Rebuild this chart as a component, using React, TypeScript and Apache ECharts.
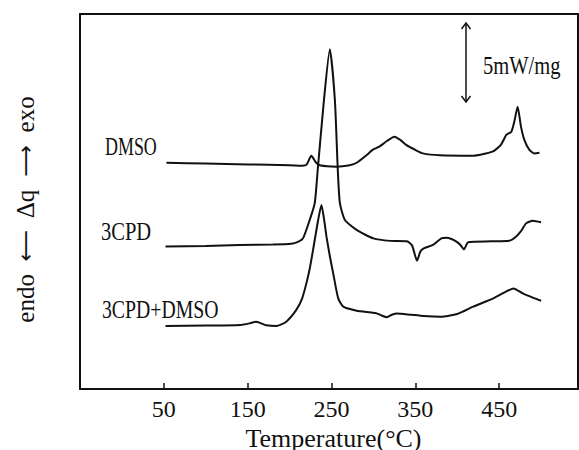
import React, { useEffect, useRef } from "react";
import * as echarts from "echarts";

// Temperature (°C) and heat flow (mW/mg, curves offset vertically)
const dmsoT = [53, 100, 150, 200, 215, 220, 226, 231, 236, 256, 270, 280, 292, 299, 307, 316, 325, 332, 339, 350, 359, 379, 418, 442, 452, 458.5, 464.5, 468, 472, 476, 480, 486, 492, 498];
const dmsoV = [14.48, 14.43, 14.37, 14.32, 14.29, 14.34, 14.93, 14.53, 14.32, 14.23, 14.3, 14.48, 14.98, 15.3, 15.51, 15.87, 16.15, 15.94, 15.62, 15.3, 15.08, 14.96, 14.93, 15.19, 15.62, 16.26, 16.47, 17.1, 18.07, 16.79, 15.94, 15.3, 15.08, 15.12];

const cpdT = [52, 100, 140, 180, 202, 210, 216, 224, 230, 233.5, 241, 248, 254, 257.5, 260, 266, 280, 300, 320, 340, 346, 352, 356, 360, 371, 381, 387, 393, 399, 404, 408, 413, 440, 462, 470, 476, 482, 490, 500];
const cpdV = [9.12, 9.15, 9.22, 9.25, 9.3, 9.42, 9.64, 10.82, 11.9, 14.0, 18.5, 21.74, 18.5, 14.0, 11.9, 10.82, 10.18, 9.64, 9.48, 9.45, 9.2, 8.21, 8.8, 9.0, 9.22, 9.64, 9.68, 9.6, 9.43, 9.2, 8.94, 9.39, 9.45, 9.49, 9.75, 10.1, 10.6, 10.77, 10.67];

const mixT = [52, 100, 141, 152, 160, 166, 172, 184, 196, 208, 215, 220, 224, 228, 234, 238, 241, 244, 248, 252, 258, 264, 280, 297, 304, 310, 316, 322, 328, 345, 360, 380, 400, 419, 443, 458, 467, 478, 490, 500];
const mixV = [4.03, 4.06, 4.1, 4.2, 4.31, 4.2, 4.08, 4.03, 4.31, 5.06, 5.8, 6.76, 7.7, 8.9, 10.8, 11.78, 10.9, 9.75, 8.5, 7.4, 5.8, 5.27, 5.01, 4.9, 4.84, 4.7, 4.6, 4.75, 4.84, 4.75, 4.67, 4.63, 4.8, 5.27, 5.8, 6.23, 6.44, 6.12, 5.85, 5.65];

const tickLabels = [50, 150, 250, 350, 450];
const seriesNames = ["DMSO", "3CPD", "3CPD+DMSO"];
const xTitle = "Temperature(°C)";
const yTitle = "endo  {a|⟵}  Δq  {a|⟶}  exo";
const scaleText = "5mW/mg";

const FONT = "'Liberation Serif', 'DejaVu Serif', serif";
const INK = "#111";

function pairs(t: number[], v: number[]) {
  return t.map((x, i) => [x, v[i]]);
}

export default function App() {
  const ref = useRef<HTMLDivElement>(null);
  useEffect(() => {
    if (!ref.current) return;
    const chart = echarts.init(ref.current, null, { renderer: "svg" });
    const lineSeries = (name: string, data: number[][]) => ({
      name,
      type: "line",
      data,
      showSymbol: false,
      smooth: 0.2,
      lineStyle: { color: INK, width: 2 },
      itemStyle: { color: INK },
    });
    const label = (text: string, x: number, y: number, sx: number) => ({
      type: "text",
      x,
      y,
      scaleX: sx,
      style: { text, fill: INK, fontFamily: FONT, fontSize: 26, align: "left", verticalAlign: "middle" },
    });
    const frameAxis = {
      axisTick: { show: false },
      axisLabel: { show: false },
      splitLine: { show: false },
    };
    chart.setOption({
      animation: false,
      backgroundColor: "#fff",
      grid: { left: 80, right: 1, top: 14, bottom: 61, outerBoundsMode: "none", containLabel: false },
      xAxis: [
        {
          type: "value",
          position: "bottom",
          min: -50,
          max: 544,
          interval: 100,
          axisLine: { show: true, onZero: false, lineStyle: { color: INK, width: 2 } },
          axisTick: { show: true, inside: true, length: 6, lineStyle: { color: INK, width: 1.5 } },
          axisLabel: {
            formatter: (v: number) => (tickLabels.includes(v) ? String(v) : ""),
            fontFamily: FONT,
            fontSize: 24,
            color: INK,
            margin: 8,
          },
          splitLine: { show: false },
          name: xTitle,
          nameLocation: "middle",
          nameGap: 33,
          nameTextStyle: { fontFamily: FONT, fontSize: 26, color: INK, padding: [0, 0, 0, 9] },
        },
        {
          type: "value",
          position: "top",
          min: -50,
          max: 544,
          interval: 100,
          axisLine: { show: true, onZero: false, lineStyle: { color: INK, width: 2 } },
          ...frameAxis,
        },
      ],
      yAxis: [
        {
          type: "value",
          position: "left",
          min: 0,
          max: 24,
          axisLine: { show: true, onZero: false, lineStyle: { color: INK, width: 2 } },
          ...frameAxis,
          name: yTitle,
          nameLocation: "middle",
          nameRotate: 90,
          nameGap: 42,
          nameTextStyle: {
            fontFamily: FONT,
            fontSize: 25,
            color: INK,
            padding: [0, 16, 0, 0],
            rich: { a: { fontFamily: "'DejaVu Sans', sans-serif", fontSize: 22, color: INK } },
          },
        },
        {
          type: "value",
          position: "right",
          min: 0,
          max: 24,
          axisLine: { show: true, onZero: false, lineStyle: { color: INK, width: 2 } },
          ...frameAxis,
        },
      ],
      series: [
        lineSeries(seriesNames[0], pairs(dmsoT, dmsoV)),
        lineSeries(seriesNames[1], pairs(cpdT, cpdV)),
        lineSeries(seriesNames[2], pairs(mixT, mixV)),
      ],
      graphic: [
        label(seriesNames[0], 105, 146, 0.69),
        label(seriesNames[1], 101, 231, 0.79),
        label(seriesNames[2], 102, 309, 0.76),
        label(scaleText, 483, 65, 0.79),
        { type: "line", shape: { x1: 466, y1: 23, x2: 466, y2: 102 }, style: { stroke: INK, lineWidth: 1.5 } },
        { type: "polyline", shape: { points: [[461.5, 29], [466, 23], [470.5, 29]] }, style: { stroke: INK, lineWidth: 1.5, fill: "none" } },
        { type: "polyline", shape: { points: [[461.5, 96], [466, 102], [470.5, 96]] }, style: { stroke: INK, lineWidth: 1.5, fill: "none" } },
      ],
    });
    return () => chart.dispose();
  }, []);
  return <div ref={ref} style={{ position: "fixed", left: 0, top: 0, width: 579, height: 450 }} />;
}
